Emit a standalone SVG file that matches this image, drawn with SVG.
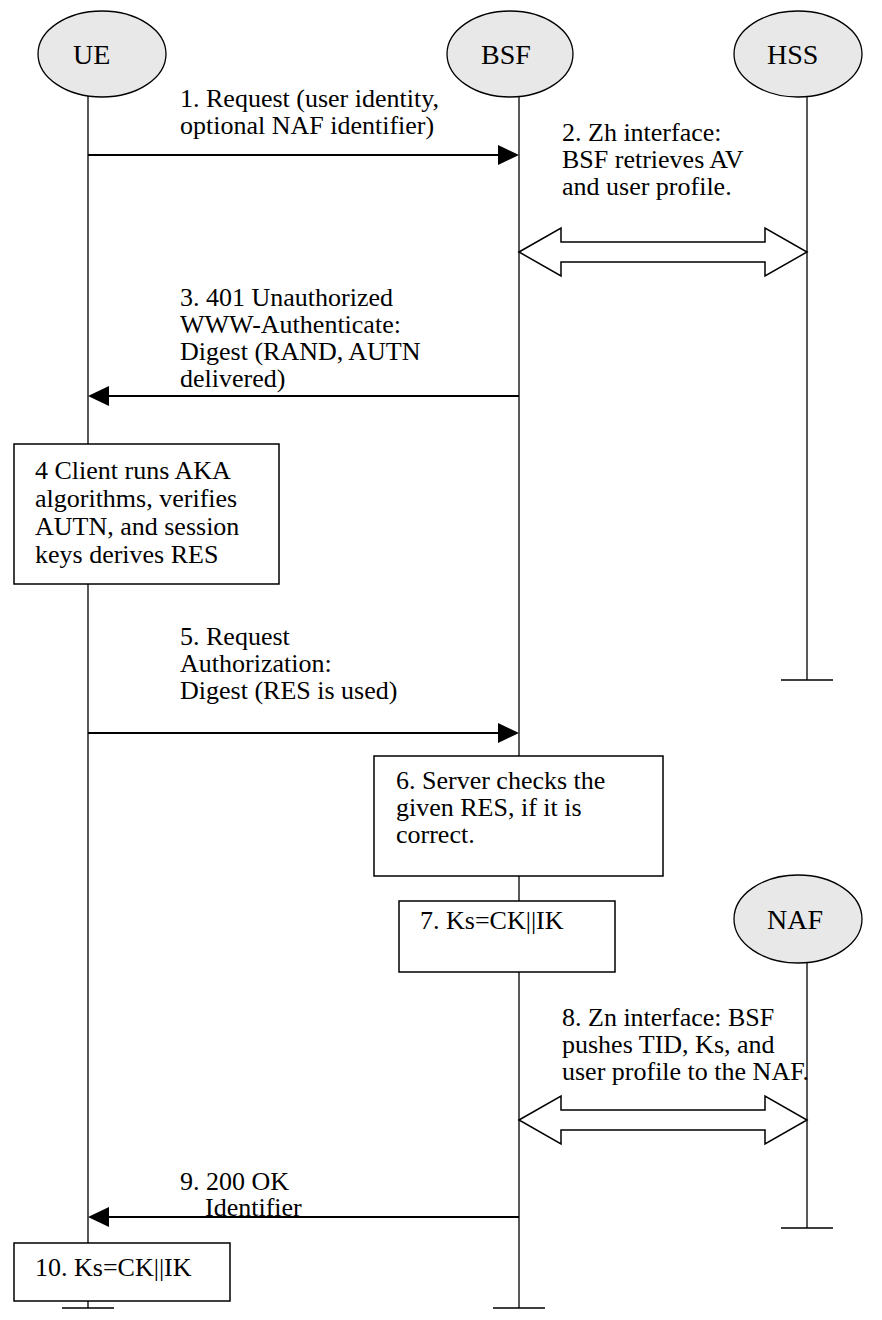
<svg xmlns="http://www.w3.org/2000/svg" width="882" height="1320" viewBox="0 0 882 1320" font-family="'Liberation Serif', 'DejaVu Serif', serif" font-size="26">
<defs>
<style>
text{font-family:'Liberation Serif','DejaVu Serif',serif;font-size:26px;fill:#000}
text.lbl{font-size:28px}
.ov{fill:#e8e8e8;stroke:#000;stroke-width:1.3}
.ll{stroke:#000;stroke-width:1.3;fill:none}
.box{fill:#fff;stroke:#000;stroke-width:1.5}
.msg{stroke:#000;stroke-width:2;fill:none}
.dbl{fill:#fff;stroke:#000;stroke-width:1.5}
</style>
</defs>
<rect width="882" height="1320" fill="#fff"/>
<g id="lifelines">
<path class="ll" d="M88,96 V1308 M62,1308 H114"/>
<path class="ll" d="M519,96 V1308 M493,1308 H545"/>
<path class="ll" d="M807,96 V680 M781,680 H833"/>
<path class="ll" d="M807,962 V1228 M781,1228 H833"/>
</g>
<g id="UE"><ellipse class="ov" cx="102" cy="54" rx="64" ry="43"/><text class="lbl" x="73" y="64">UE</text></g>
<g id="BSF"><ellipse class="ov" cx="510" cy="54" rx="63" ry="43"/><text class="lbl" x="481" y="64">BSF</text></g>
<g id="HSS"><ellipse class="ov" cx="798" cy="54" rx="64" ry="43"/><text class="lbl" x="767" y="64">HSS</text></g>
<g id="NAF"><ellipse class="ov" cx="798" cy="919" rx="64" ry="44"/><text class="lbl" x="767" y="929">NAF</text></g>
<g id="connectors">
<line class="msg" x1="88" y1="155" x2="498" y2="155"/><path d="M498,145 L519,155 L498,165 z"/>
<path class="dbl" d="M519,252 L561,228 L561,242 L765,242 L765,228 L807,252 L765,276 L765,262 L561,262 L561,276 z"/>
<line class="msg" x1="519" y1="396" x2="109" y2="396"/><path d="M109,386 L88,396 L109,406 z"/>
<line class="msg" x1="88" y1="733" x2="498" y2="733"/><path d="M498,723 L519,733 L498,743 z"/>
<path class="dbl" d="M519,1120 L561,1096 L561,1110 L765,1110 L765,1096 L807,1120 L765,1144 L765,1130 L561,1130 L561,1144 z"/>
<line class="msg" x1="519" y1="1217" x2="109" y2="1217"/><path d="M109,1207 L88,1217 L109,1227 z"/>
</g>
<g id="label1"><text x="180" y="107">1. Request (user identity,</text><text x="180" y="134">optional NAF identifier)</text></g>
<g id="label2"><text x="562" y="141">2. Zh interface:</text><text x="562" y="168">BSF retrieves AV</text><text x="562" y="195">and user profile.</text></g>
<g id="label3"><text x="180" y="306">3. 401 Unauthorized</text><text x="180" y="333">WWW-Authenticate:</text><text x="180" y="360">Digest (RAND, AUTN</text><text x="180" y="387">delivered)</text></g>
<g id="step4"><rect class="box" x="14" y="444" width="265" height="140"/><text x="35" y="479">4 Client runs AKA</text><text x="35" y="507">algorithms, verifies</text><text x="35" y="535">AUTN, and session</text><text x="35" y="563">keys derives RES</text></g>
<g id="label5"><text x="180" y="645">5. Request</text><text x="180" y="672">Authorization:</text><text x="180" y="699">Digest (RES is used)</text></g>
<g id="step6"><rect class="box" x="374" y="756" width="289" height="120"/><text x="396" y="789">6. Server checks the</text><text x="396" y="816">given RES, if it is</text><text x="396" y="843">correct.</text></g>
<g id="step7"><rect class="box" x="399" y="901" width="216" height="71"/><text x="420" y="929">7. Ks=CK||IK</text></g>
<g id="label8"><text x="562" y="1026">8. Zn interface: BSF</text><text x="562" y="1053">pushes TID, Ks, and</text><text x="562" y="1080">user profile to the NAF.</text></g>
<g id="label9"><text x="180" y="1190">9. 200 OK</text><text x="205" y="1216">Identifier</text></g>
<g id="step10"><rect class="box" x="14" y="1243" width="216" height="58"/><text x="35" y="1276">10. Ks=CK||IK</text></g>
</svg>
